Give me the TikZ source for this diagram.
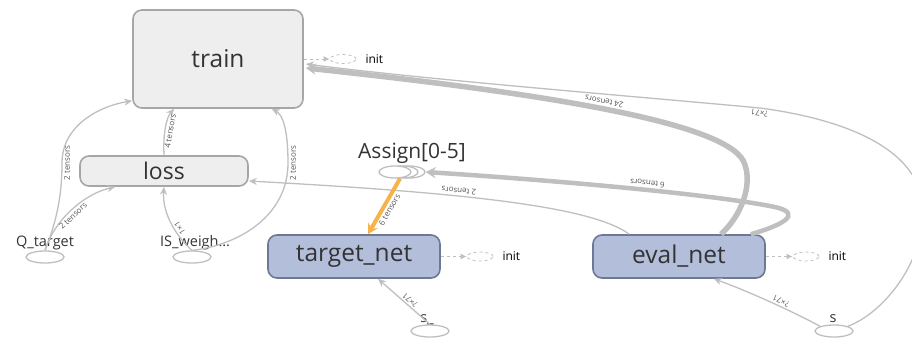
\documentclass[tikz,border=0pt]{standalone}
\usepackage{fontspec}
\setmainfont{Open Sans}
\usetikzlibrary{arrows.meta,shapes.geometric,calc}
\definecolor{edgegray}{HTML}{BFBFBF}
\definecolor{nodegray}{HTML}{A6A6A6}
\definecolor{nodefill}{HTML}{EEEEEE}
\definecolor{netfill}{HTML}{B3BEDB}
\definecolor{netborder}{HTML}{6D7894}
\definecolor{textdark}{HTML}{333333}
\definecolor{lblgray}{HTML}{555555}
\definecolor{refedge}{HTML}{F6B34B}
\begin{document}
\begin{tikzpicture}[x=1pt,y=-1pt,
  opnode/.style={draw=nodegray, fill=nodefill, rounded corners=9pt, line width=1.6pt,
    text=textdark, inner sep=0pt},
  netnode/.style={draw=netborder, fill=netfill, rounded corners=9pt, line width=1.6pt,
    text=textdark, inner sep=0pt, font=\fontsize{24.5}{24.5}\selectfont},
  ph/.style={ellipse, draw=edgegray, line width=1.3pt, fill=white,
    minimum width=38pt, minimum height=12pt, inner sep=0pt},
  initell/.style={ellipse, draw=edgegray, dashed, line width=0.8pt,
    minimum width=26pt, minimum height=9pt, inner sep=0pt},
  initedge/.style={draw=edgegray, dashed, line width=0.9pt, -{Latex[length=6pt,width=6pt]}},
  phlabel/.style={text=textdark, font=\fontsize{14.5}{14.5}\selectfont, anchor=base},
  initlabel/.style={text=black, font=\fontsize{12}{12}\selectfont, anchor=west},
  edge/.style={draw=edgegray, line width=1.3pt, -{Stealth[length=8pt,width=7pt]}},
  heavyedge/.style={draw=edgegray, -{Stealth[length=10pt,width=11pt]}},
  refline/.style={draw=refedge, line width=4pt, {Stealth[length=10pt,width=11pt]}-},
  lbl/.style={text=lblgray, font=\fontsize{8}{8}\selectfont, inner sep=1.5pt},
]
\clip (0,0) rectangle (912,340);

% operation nodes
\node[opnode, minimum width=170pt, minimum height=98pt,
      font=\fontsize{24.5}{24.5}\selectfont] (train) at (218,59) {train};
\node[opnode, minimum width=168pt, minimum height=30pt,
      font=\fontsize{23}{23}\selectfont] (loss) at (164,171) {loss};
\node[netnode, minimum width=172pt, minimum height=43pt] (tnet) at (354,256.5) {target\_net};
\node[netnode, minimum width=172pt, minimum height=43pt] (enet) at (679,256.5) {eval\_net};

% placeholders
\node[ph] (qt) at (45,257) {};
\node[phlabel] (qtl) at (45,246) {Q\_target};
\node[ph] (isw) at (192,257) {};
\node[phlabel] (iswl) at (195,246) {IS\_weigh\ldots};
\node[ph] (sp) at (430,331) {};
\node[phlabel] (spl) at (427,322) {s\_};
\node[ph] (s) at (834,331) {};
\node[phlabel] (sl) at (833,322) {s};

% stacked Assign ops
\node[ph, minimum width=32pt] (as3) at (409,172) {};
\node[ph, minimum width=32pt] (as2) at (402,172) {};
\node[ph, minimum width=32pt] (as1) at (395,172) {};
\node[text=textdark, font=\fontsize{21}{21}\selectfont] (asl) at (412,153) {Assign[0-5]};

% init dependencies
\node[initell] (ti) at (343,59) {};
\node[initlabel] (til) at (362,59) {init};
\draw[initedge] (train.east) -- (ti.west);
\node[initell] (tni) at (480,256.5) {};
\node[initlabel] (tnil) at (499,256.5) {init};
\draw[initedge] (tnet.east) -- (tni.west);
\node[initell] (eni) at (806,256.5) {};
\node[initlabel] (enil) at (825,256.5) {init};
\draw[initedge] (enet.east) -- (eni.west);

% data edges into train and loss
\draw[edge] (qt.north) .. controls (55,225) and (62,200) .. (62,163)
  node[lbl, pos=1, sloped, below] {2 tensors}
  .. controls (62,125) and (100,106) .. ($(train.south west)+(0,-8)$);
\draw[edge] (qt.north) .. controls (52,225) and (80,195) .. ($(loss.south west)+(36,0)$)
  node[lbl, pos=0.5, sloped, below] {2 tensors};
\draw[edge] (isw.north) .. controls (178,238) and (162,215) .. (loss.south)
  node[lbl, pos=0.4, sloped, allow upside down, below] {1×1};
\draw[edge] (isw.north) .. controls (240,245) and (288,215) .. (288,163)
  node[lbl, pos=1, sloped, below] {2 tensors}
  .. controls (288,130) and (283,115) .. ($(train.south east)+(-32,0)$);
\draw[edge] (loss.north) .. controls (163,135) and (166,118) .. ($(train.south west)+(42,0)$)
  node[lbl, pos=0.45, sloped, below] {4 tensors};

% edges out of eval_net
\draw[edge] ($(enet.north west)+(37,0)$) .. controls (590,205) and (450,192) .. ($(loss.east)+(0,10)$)
  node[lbl, pos=0.6, sloped, allow upside down, below] {2 tensors};
\draw[heavyedge, line width=4.5pt] ($(enet.north east)+(-15,0)$)
  .. controls (780,226) and (805,214) .. (775,207)
  .. controls (700,192) and (520,178) .. (as3.east)
  node[lbl, pos=0.4, sloped, allow upside down, below] {6 tensors};
\draw[heavyedge, line width=5.5pt] ($(enet.north)+(42,0)$)
  .. controls (742,215) and (752,185) .. (745,165)
  .. controls (735,125) and (560,95) .. ($(train.east)+(2,9)$)
  node[lbl, pos=0.53, sloped, allow upside down, below] {24 tensors};

% edges from the state inputs
\draw[edge] (s.north east) .. controls (890,310) and (930,250) .. (922,200)
  .. controls (914,150) and (850,120) .. (760,108)
  node[lbl, pos=1, sloped, allow upside down, above] {?×71}
  .. controls (620,95) and (430,80) .. ($(train.east)+(2,5)$);
\draw[edge] (s.north west) .. controls (790,310) and (745,290) .. ($(enet.south east)+(-52,0)$)
  node[lbl, pos=0.4, sloped, allow upside down, below] {?×71};
\draw[edge] (sp.north) -- ($(tnet.south)+(24,0)$)
  node[lbl, pos=0.45, sloped, allow upside down, below] {?×71};

% reference edge from Assign into target_net
\draw[refline] ($(tnet.north)+(14,0)$) -- ($(as1.south)+(5,0)$)
  node[lbl, pos=0.5, sloped, below] {6 tensors};
\end{tikzpicture}
\end{document}
